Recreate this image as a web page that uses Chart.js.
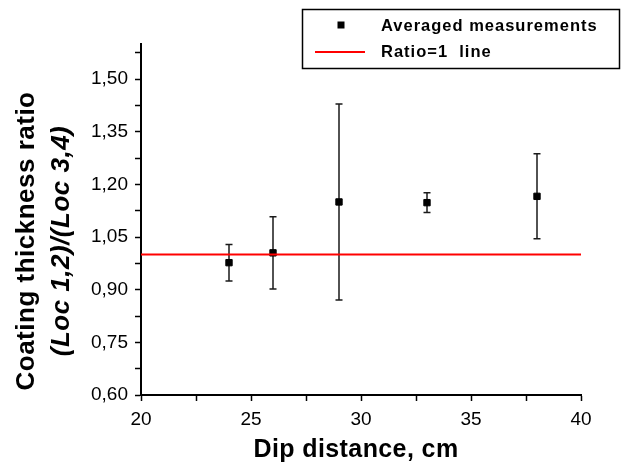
<!DOCTYPE html>
<html>
<head>
<meta charset="utf-8">
<script src="https://cdn.jsdelivr.net/npm/chart.js@4/dist/chart.umd.min.js"></script>
<style>
  html, body { margin: 0; padding: 0; background: #fff; }
  canvas { display: block; }
</style>
</head>
<body>
<canvas id="chart" width="621" height="463"></canvas>
<script>
// data
const dipDistance = [24, 26, 29, 33, 38];
const thicknessRatio = [0.977, 1.005, 1.150, 1.148, 1.166];
const ratioError = [0.052, 0.103, 0.279, 0.028, 0.121];

const ratioLineX = [20, 40];
const ratioLineY = [1, 1];

const xMajorTicks = [20, 25, 30, 35, 40];
const xMinorTicks = [22.5, 27.5, 32.5, 37.5];
const xTickLabels = ['20', '25', '30', '35', '40'];

const yMajorTicks = [0.60, 0.75, 0.90, 1.05, 1.20, 1.35, 1.50];
const yMinorTicks = [0.675, 0.825, 0.975, 1.125, 1.275, 1.425, 1.575];
const yTickLabels = ['0,60', '0,75', '0,90', '1,05', '1,20', '1,35', '1,50'];

const seriesNames = ['Averaged measurements', 'Ratio=1  line'];
const xTitle = 'Dip distance, cm';
const yTitleLines = ['Coating thickness ratio', '(Loc 1,2)/(Loc 3,4)'];

const FONT = "'Liberation Sans', Arial, sans-serif";

function labelFor(value, majors, labels) {
  const i = majors.findIndex(m => Math.abs(m - value) < 1e-6);
  return i >= 0 ? labels[i] : '';
}

// vertical error bars, drawn through the y scale
const errorBars = {
  id: 'errorBars',
  beforeDatasetsDraw(chart) {
    const ctx = chart.ctx;
    const xs = chart.scales.x, ys = chart.scales.y;
    ctx.save();
    ctx.strokeStyle = '#1a1a1a';
    ctx.lineWidth = 1.5;
    dipDistance.forEach((d, i) => {
      const px = xs.getPixelForValue(d);
      const top = ys.getPixelForValue(thicknessRatio[i] + ratioError[i]);
      const bot = ys.getPixelForValue(thicknessRatio[i] - ratioError[i]);
      ctx.beginPath();
      ctx.moveTo(px, top); ctx.lineTo(px, bot);
      ctx.moveTo(px - 3.5, top); ctx.lineTo(px + 3.5, top);
      ctx.moveTo(px - 3.5, bot); ctx.lineTo(px + 3.5, bot);
      ctx.stroke();
    });
    ctx.restore();
  }
};

// axis titles and boxed legend
const decorations = {
  id: 'decorations',
  afterDraw(chart) {
    const ctx = chart.ctx;
    const area = chart.chartArea;
    ctx.save();
    ctx.fillStyle = '#000';
    ctx.textAlign = 'center';
    ctx.textBaseline = 'middle';

    // x title
    ctx.font = 'bold 25px ' + FONT;
    ctx.letterSpacing = '0.4px';
    ctx.fillText(xTitle, (area.left + area.right) / 2 - 5, 450);

    // y title, two lines
    ctx.save();
    ctx.translate(27, 241);
    ctx.rotate(-Math.PI / 2);
    ctx.font = 'bold 26px ' + FONT;
    ctx.letterSpacing = '0.5px';
    ctx.fillText(yTitleLines[0], 0, 0);
    ctx.font = 'italic bold 26px ' + FONT;
    ctx.fillText(yTitleLines[1], 0, 35);
    ctx.restore();

    // legend box
    ctx.lineWidth = 1.5;
    ctx.strokeStyle = '#000';
    ctx.strokeRect(302.5, 9.5, 317, 59);
    ctx.fillRect(337.5, 21.5, 7, 7);
    ctx.strokeStyle = '#ff0000';
    ctx.lineWidth = 2;
    ctx.beginPath();
    ctx.moveTo(315, 52); ctx.lineTo(365, 52);
    ctx.stroke();
    ctx.textAlign = 'left';
    ctx.font = 'bold 16.5px ' + FONT;
    ctx.letterSpacing = '1px';
    ctx.fillText(seriesNames[0], 381, 26);
    ctx.fillText(seriesNames[1], 381, 52);
    ctx.restore();
  }
};

const axisLook = {
  grid: { display: true, drawOnChartArea: false, drawTicks: true, tickLength: 6, tickColor: '#000', tickWidth: 1.5 },
  border: { display: true, color: '#000', width: 2 }
};

new Chart(document.getElementById('chart'), {
  type: 'scatter',
  data: {
    datasets: [
      {
        label: seriesNames[0],
        data: dipDistance.map((d, i) => ({ x: d, y: thicknessRatio[i] })),
        pointStyle: 'rect',
        pointRadius: 4.5,
        pointBorderWidth: 1,
        backgroundColor: '#000',
        borderColor: '#000',
        order: 1
      },
      {
        type: 'line',
        label: seriesNames[1],
        data: ratioLineX.map((x, i) => ({ x: x, y: ratioLineY[i] })),
        borderColor: '#ff0000',
        borderWidth: 2,
        pointRadius: 0,
        fill: false,
        order: 0
      }
    ]
  },
  options: {
    responsive: false,
    animation: false,
    devicePixelRatio: 1,
    layout: { padding: { left: 0, top: 44, right: 40, bottom: 0 } },
    plugins: { legend: { display: false }, tooltip: { enabled: false } },
    scales: {
      x: {
        type: 'linear',
        min: 20, max: 40,
        ...axisLook,
        afterBuildTicks(scale) {
          scale.ticks = xMajorTicks.concat(xMinorTicks).sort((a, b) => a - b).map(v => ({ value: v }));
        },
        afterFit(scale) { scale.height = 68; },
        ticks: {
          color: '#000',
          padding: 7,
          maxRotation: 0,
          autoSkip: false,
          font: { family: FONT, size: 19 },
          callback: v => labelFor(v, xMajorTicks, xTickLabels)
        }
      },
      y: {
        type: 'linear',
        min: 0.6, max: 1.6,
        ...axisLook,
        afterBuildTicks(scale) {
          scale.ticks = yMajorTicks.concat(yMinorTicks).sort((a, b) => a - b).map(v => ({ value: v }));
        },
        afterFit(scale) { scale.width = 141; },
        ticks: {
          color: '#000',
          padding: 7,
          autoSkip: false,
          font: { family: FONT, size: 19 },
          callback: v => labelFor(v, yMajorTicks, yTickLabels)
        }
      }
    }
  },
  plugins: [errorBars, decorations]
});
</script>
</body>
</html>
